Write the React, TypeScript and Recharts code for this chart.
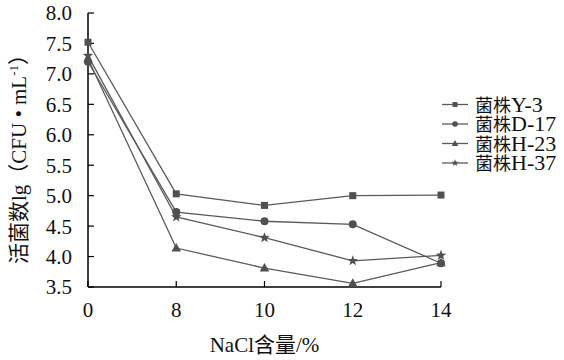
import React from 'react';
import { LineChart, Line, XAxis, YAxis } from 'recharts';

// NaCl 含量 (%)
const nacl = ['0', '8', '10', '12', '14'];
// 活菌数 lg(CFU·mL-1)
const strainY3 = [7.52, 5.03, 4.84, 5.0, 5.01];
const strainD17 = [7.2, 4.73, 4.58, 4.53, 3.89];
const strainH23 = [7.25, 4.14, 3.81, 3.56, 3.9];
const strainH37 = [7.3, 4.65, 4.31, 3.93, 4.02];
const yTicks = [3.5, 4.0, 4.5, 5.0, 5.5, 6.0, 6.5, 7.0, 7.5, 8.0];

const series = [
  { key: 'y3', cn: '菌株', code: 'Y-3', shape: 'square', values: strainY3 },
  { key: 'd17', cn: '菌株', code: 'D-17', shape: 'circle', values: strainD17 },
  { key: 'h23', cn: '菌株', code: 'H-23', shape: 'triangle', values: strainH23 },
  { key: 'h37', cn: '菌株', code: 'H-37', shape: 'star', values: strainH37 },
];

const data = nacl.map((x, i) => {
  const row: any = { x };
  series.forEach((s) => (row[s.key] = s.values[i]));
  return row;
});

const FONT = "'Liberation Serif', 'Noto Sans CJK SC', serif";
const LINE = '#5a5a5a';
const MARK = '#505050';

const Marker = ({ shape, cx, cy, k = 1 }: any) => {
  if (cx == null || cy == null) return null;
  if (shape === 'square') {
    const h = 3.5 * k;
    return <rect x={cx - h} y={cy - h} width={2 * h} height={2 * h} fill={MARK} />;
  }
  if (shape === 'circle') {
    return <circle cx={cx} cy={cy} r={4 * k} fill={MARK} />;
  }
  if (shape === 'triangle') {
    const r = 5 * k;
    const pts = [
      [cx, cy - r],
      [cx + r * 0.95, cy + r * 0.7],
      [cx - r * 0.95, cy + r * 0.7],
    ];
    return <polygon points={pts.map((p) => p.join(',')).join(' ')} fill={MARK} />;
  }
  // star
  const outer = 5.5 * k;
  const inner = 2.3 * k;
  const pts: string[] = [];
  for (let i = 0; i < 10; i++) {
    const r = i % 2 === 0 ? outer : inner;
    const a = -Math.PI / 2 + (i * Math.PI) / 5;
    pts.push(`${cx + r * Math.cos(a)},${cy + r * Math.sin(a)}`);
  }
  return <polygon points={pts.join(' ')} fill={MARK} />;
};

const App: React.FC = () => {
  return (
    <div style={{ position: 'absolute', left: 0, top: 0, width: 564, height: 360, background: '#fff' }}>
      <LineChart
        width={564}
        height={360}
        data={data}
        margin={{ top: 13, right: 123, left: 0, bottom: 33 }}
      >
        <XAxis
          dataKey="x"
          scale="point"
          padding={{ left: 0, right: 0 }}
          interval={0}
          height={40}
          tickSize={-6}
          tickMargin={21}
          axisLine={{ stroke: '#000', strokeWidth: 1.5 }}
          tickLine={{ stroke: '#000', strokeWidth: 1.2 }}
          tick={{ fill: '#111', fontSize: 21, fontFamily: FONT }}
          label={{
            content: ({ viewBox }: any) => (
              <text
                x={viewBox.x + viewBox.width / 2}
                y={352}
                textAnchor="middle"
                fontSize={21}
                fontFamily={FONT}
                fill="#111"
              >
                NaCl含量/%
              </text>
            ),
          }}
        />
        <YAxis
          type="number"
          domain={[3.5, 8]}
          ticks={yTicks}
          interval={0}
          width={88}
          tickSize={-6}
          tickMargin={22}
          axisLine={{ stroke: '#000', strokeWidth: 1.5 }}
          tickLine={{ stroke: '#000', strokeWidth: 1.2 }}
          tick={{ fill: '#111', fontSize: 21, fontFamily: FONT }}
          tickFormatter={(v: number) => v.toFixed(1)}
          label={{
            content: () => (
              <text
                x={0}
                y={0}
                transform="translate(26,154) rotate(-90)"
                textAnchor="middle"
                fontSize={21}
                fontFamily={FONT}
                fill="#111"
              >
                活菌数lg（CFU • mL
                <tspan dy={-8} fontSize={13}>-1</tspan>
                <tspan dy={8} fontSize={21}>）</tspan>
              </text>
            ),
          }}
        />
        {series.map((s) => (
          <Line
            key={s.key}
            type="linear"
            dataKey={s.key}
            name={s.cn + s.code}
            stroke={LINE}
            strokeWidth={1.3}
            isAnimationActive={false}
            activeDot={false}
            dot={(p: any) => <Marker key={`${s.key}-${p.index}`} shape={s.shape} cx={p.cx} cy={p.cy} />}
          />
        ))}
      </LineChart>
      <svg
        width={564}
        height={360}
        style={{ position: 'absolute', left: 0, top: 0, pointerEvents: 'none' }}
      >
        {series.map((s, i) => {
          const cy = 104.5 + i * 19.5;
          return (
            <g key={s.key}>
              <line x1={442} x2={468} y1={cy} y2={cy} stroke={LINE} strokeWidth={1.3} />
              <Marker shape={s.shape} cx={455} cy={cy} k={0.7} />
              <text x={475} y={cy + 7} fontFamily={FONT} fill="#111">
                <tspan fontSize={18}>{s.cn}</tspan>
                <tspan fontSize={22}>{s.code}</tspan>
              </text>
            </g>
          );
        })}
      </svg>
    </div>
  );
};

export default App;
